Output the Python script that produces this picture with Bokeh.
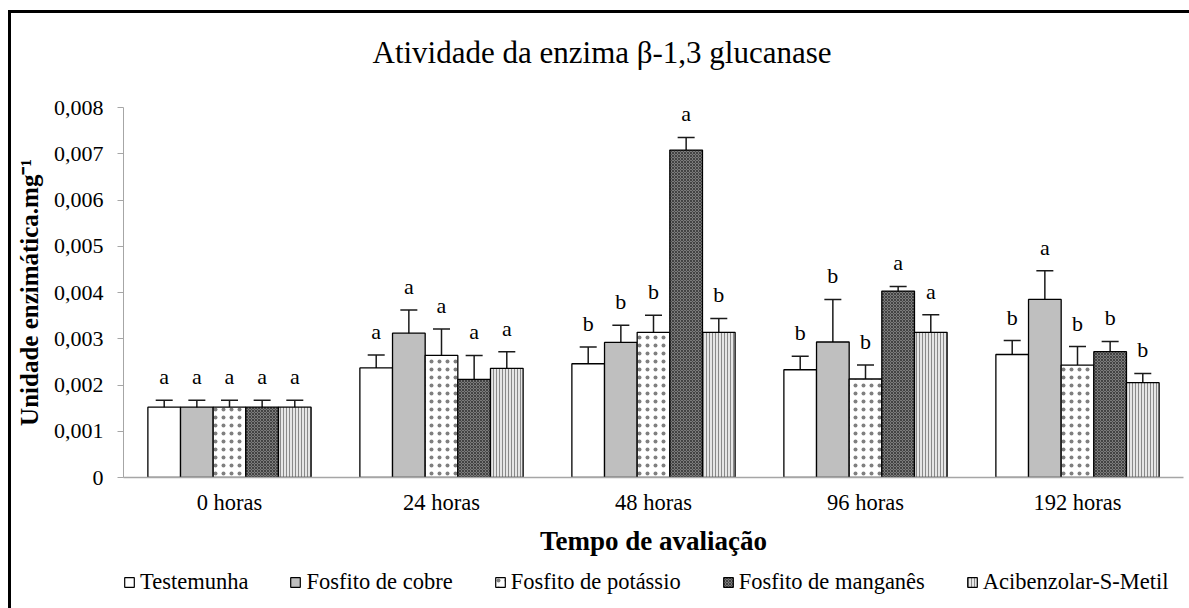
from bokeh.plotting import figure
from bokeh.models import (FactorRange, ColumnDataSource, Whisker, TeeHead, Legend, LegendItem,
                          FixedTicker, CustomJSTickFormatter, Title)
from bokeh.layouts import column
from bokeh.transform import dodge
from bokeh.core.properties import value
from bokeh.embed import file_html
from bokeh.resources import INLINE

categories = ["0 horas", "24 horas", "48 horas", "96 horas", "192 horas"]
series_names = ["Testemunha", "Fosfito de cobre", "Fosfito de potássio",
                "Fosfito de manganês", "Acibenzolar-S-Metil"]

testemunha = [0.00152, 0.00237, 0.00246, 0.00233, 0.00266]
testemunha_err = [0.00015, 0.00028, 0.00036, 0.00029, 0.00030]
cobre = [0.00152, 0.00312, 0.00292, 0.00293, 0.00385]
cobre_err = [0.00015, 0.00050, 0.00037, 0.00092, 0.00062]
potassio = [0.00152, 0.00264, 0.00314, 0.00213, 0.00243]
potassio_err = [0.00015, 0.00057, 0.00037, 0.00030, 0.00040]
manganes = [0.00152, 0.00212, 0.00708, 0.00403, 0.00272]
manganes_err = [0.00015, 0.00052, 0.00027, 0.00010, 0.00022]
acibenzolar = [0.00152, 0.00236, 0.00314, 0.00314, 0.00205]
acibenzolar_err = [0.00015, 0.00036, 0.00030, 0.00038, 0.00020]

letters_testemunha = ["a", "a", "b", "b", "b"]
letters_cobre = ["a", "a", "b", "b", "a"]
letters_potassio = ["a", "a", "b", "b", "b"]
letters_manganes = ["a", "a", "a", "a", "b"]
letters_acibenzolar = ["a", "a", "b", "a", "b"]

y_ticks = [0, 0.001, 0.002, 0.003, 0.004, 0.005, 0.006, 0.007, 0.008]

series = [
    (testemunha, testemunha_err, letters_testemunha),
    (cobre, cobre_err, letters_cobre),
    (potassio, potassio_err, letters_potassio),
    (manganes, manganes_err, letters_manganes),
    (acibenzolar, acibenzolar_err, letters_acibenzolar),
]

styles = [
    dict(fill_color="white"),
    dict(fill_color="#bfbfbf"),
    dict(fill_color="white", hatch_pattern="dot", hatch_color="black", hatch_scale=8, hatch_alpha=0.5),
    dict(fill_color="#7c7c7c", hatch_pattern="diagonal_cross", hatch_color="#333333", hatch_scale=3, hatch_weight=0.8),
    dict(fill_color="#e6e6e6", hatch_pattern="vertical_line", hatch_color="#8a8a8a", hatch_scale=3, hatch_weight=1),
]

FONT = "Liberation Serif"

p = figure(x_range=FactorRange(factors=categories, range_padding=0), y_range=(0, 0.008),
           width=1178, height=549, output_backend="svg", toolbar_location=None,
           title_location=None,
           min_border_left=112, min_border_right=6, min_border_top=94, min_border_bottom=85)

# invisible spacer between frame and title, then the title itself (outermost)
spacer = Title(text=" ", text_font_size="8px", standoff=12)
p.add_layout(spacer, "above")
main_title = Title(text="Atividade da enzima β-1,3 glucanase", align="left", offset=249,
                   text_font=FONT, text_font_style="normal", text_font_size="31px",
                   text_color="black", standoff=30)
p.add_layout(main_title, "above")

bar_w = 0.154
for j, ((vals, errs, letters), st) in enumerate(zip(series, styles)):
    off = (j - 2) * bar_w
    src = ColumnDataSource(dict(
        cat=categories, val=vals,
        upper=[v + e for v, e in zip(vals, errs)],
        lower=[v - e for v, e in zip(vals, errs)],
        lab_y=[v + e + 0.00024 for v, e in zip(vals, errs)],
        letter=letters))
    p.vbar(x=dodge("cat", off, range=p.x_range), top="val", width=bar_w, source=src,
           line_color="black", line_width=1.3, **st)
    w = Whisker(base=dodge("cat", off, range=p.x_range), upper="upper", lower="lower", source=src,
                line_color="#1a1a1a", line_width=1.5,
                upper_head=TeeHead(size=17, line_color="#1a1a1a", line_width=1.5),
                lower_head=TeeHead(size=17, line_color="#1a1a1a", line_width=1.5))
    p.add_layout(w)
    p.text(x=dodge("cat", off, range=p.x_range), y="lab_y", text="letter", source=src,
           text_font=value(FONT), text_font_size="22px", text_align="center",
           text_baseline="bottom", text_color="black")

p.xgrid.visible = False
p.ygrid.visible = False
p.outline_line_color = None

p.yaxis.ticker = FixedTicker(ticks=y_ticks)
p.yaxis.formatter = CustomJSTickFormatter(code="return tick == 0 ? '0' : tick.toFixed(3).replace('.', ',');")
p.yaxis.axis_line_color = "#a6a6a6"
p.yaxis.major_tick_line_color = "#a6a6a6"
p.yaxis.major_tick_out = 6
p.yaxis.major_tick_in = 0
p.yaxis.minor_tick_line_color = None
p.yaxis.major_label_text_font = FONT
p.yaxis.major_label_text_font_size = "22px"
p.yaxis.major_label_text_color = "black"
p.yaxis.major_label_standoff = 14
p.yaxis.axis_label = "Unidade enzimática.mg⁻¹"
p.yaxis.axis_label_text_font = FONT
p.yaxis.axis_label_text_font_style = "bold"
p.yaxis.axis_label_text_font_size = "25px"
p.yaxis.axis_label_text_color = "black"
p.yaxis.axis_label_standoff = 8

p.xaxis.axis_line_color = "#a6a6a6"
p.xaxis.axis_line_width = 1.5
p.xaxis.major_tick_line_color = None
p.xaxis.minor_tick_line_color = None
p.xaxis.major_label_text_font = FONT
p.xaxis.major_label_text_font_size = "22.5px"
p.xaxis.major_label_text_color = "black"
p.xaxis.major_label_standoff = 6
p.xaxis.axis_label = "Tempo de avaliação"
p.xaxis.axis_label_text_font = FONT
p.xaxis.axis_label_text_font_style = "bold"
p.xaxis.axis_label_text_font_size = "27px"
p.xaxis.axis_label_text_color = "black"
p.xaxis.axis_label_standoff = 8

# legend strip below the chart (zero-height swatch bars outside the visible y range)
lf = figure(width=1178, height=46, output_backend="svg", toolbar_location=None,
            x_axis_location=None, y_axis_location=None, x_range=(0, 1), y_range=(1, 2),
            min_border=0)
lf.xgrid.visible = False
lf.ygrid.visible = False
lf.outline_line_color = None
legend_items = []
for st, name in zip(styles, series_names):
    r = lf.vbar(x=[0.5], top=[0], bottom=[0], width=0.01, line_color="black", line_width=1.2, **st)
    legend_items.append(LegendItem(label=name, renderers=[r]))

legend = Legend(items=legend_items, orientation="horizontal", location=(0, 13))
legend.label_text_font = FONT
legend.label_text_font_size = "22.5px"
legend.label_text_color = "black"
legend.glyph_width = 12
legend.glyph_height = 12
legend.label_standoff = 5
legend.spacing = 41
legend.padding = 0
legend.margin = 0
legend.border_line_color = None
legend.background_fill_alpha = 0
lf.add_layout(legend, "center")

page = column(p, lf, styles={"margin-left": "8px", "margin-top": "10px",
                             "border-top": "3px solid black", "border-left": "3px solid black"})

open("out.html", "w").write(file_html(page, INLINE))
